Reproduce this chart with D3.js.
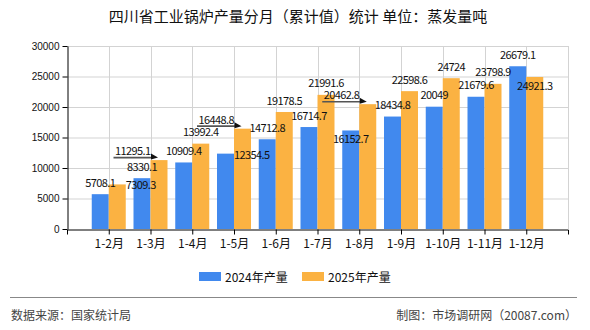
<!DOCTYPE html>
<html>
<head>
<meta charset="utf-8">
<script src="https://cdn.jsdelivr.net/npm/d3@7"></script>
<style>
  body { margin: 0; background: #fff; }
  text { font-family: "Noto Sans CJK SC", "Liberation Sans", sans-serif; }
</style>
</head>
<body>
<script>
// data
var categories = ["1-2月", "1-3月", "1-4月", "1-5月", "1-6月", "1-7月", "1-8月", "1-9月", "1-10月", "1-11月", "1-12月"];
var values2024 = [5708.1, 8330.1, 10909.4, 12354.5, 14712.8, 16714.7, 16152.7, 18434.8, 20049, 21679.6, 26679.1];
var values2025 = [7309.3, 11295.1, 13992.4, 16448.8, 19178.5, 21991.6, 20462.8, 22598.6, 24724, 23798.9, 24921.3];
var seriesNames = ["2024年产量", "2025年产量"];
var yTicks = [0, 5000, 10000, 15000, 20000, 25000, 30000];

// where each value label sits (the original moved a few to avoid overlap)
var labelPlace2024 = ["top", "top", "top", "right", "top", "top", "inside", "top", "top", "top", "top"];
var labelPlace2025 = ["right", "left", "top", "left", "top", "top", "left", "top", "top", "top", "inside"];

var w = 590, h = 330;
var pLeft = 67, pRight = 568, pTop = 46, pBottom = 229;
var colors = ["#4189ee", "#fbb242"];
var barW = 17;

var svg = d3.select("body").append("svg")
    .attr("width", w)
    .attr("height", h);

// title
svg.append("text")
    .attr("x", 298).attr("y", 22)
    .attr("text-anchor", "middle")
    .style("font-size", "15px")
    .style("fill", "#111")
    .text("四川省工业锅炉产量分月（累计值）统计 单位：蒸发量吨");

var x = d3.scalePoint().domain(categories).range([pLeft, pRight]).padding(1);
var y = d3.scaleLinear().domain([0, 30000]).range([pBottom, pTop]);

// grid
svg.append("g").selectAll("line")
    .data(yTicks.filter(function(d){ return d > 0; }))
    .join("line")
    .attr("x1", pLeft).attr("x2", pRight)
    .attr("y1", function(d){ return y(d) + 0.5; })
    .attr("y2", function(d){ return y(d) + 0.5; })
    .attr("stroke", "#d3d3d3");

svg.append("g").selectAll("line")
    .data(categories.map(function(c){ return x(c); }).concat([pRight]))
    .join("line")
    .attr("x1", function(d){ return Math.round(d) + 0.5; })
    .attr("x2", function(d){ return Math.round(d) + 0.5; })
    .attr("y1", pTop).attr("y2", pBottom)
    .attr("stroke", "#d3d3d3");

// bars
var series = [values2024, values2025];
series.forEach(function(vals, s){
    svg.append("g").selectAll("rect")
        .data(vals)
        .join("rect")
        .attr("x", function(d, i){ return x(categories[i]) - barW + s * barW; })
        .attr("y", function(d){ return y(d); })
        .attr("width", barW)
        .attr("height", function(d){ return pBottom - y(d); })
        .attr("fill", colors[s]);
});

// axes
var yAxis = svg.append("g")
    .attr("transform", "translate(" + (pLeft + 0.5) + ",0)")
    .call(d3.axisLeft(y).tickValues(yTicks).tickSize(5).tickSizeOuter(0).tickPadding(3).tickFormat(d3.format("")));
yAxis.selectAll("text").style("font-family", "Liberation Sans").style("font-size", "10px").style("fill", "#111");

var xAxis = svg.append("g")
    .attr("transform", "translate(0," + (pBottom + 0.5) + ")")
    .call(d3.axisBottom(x).tickSize(5).tickSizeOuter(5).tickPadding(5));
xAxis.selectAll("text").style("font-size", "12px").style("fill", "#111");

// value labels
var labels = svg.append("g")
    .style("font-family", "Liberation Mono, monospace")
    .style("font-size", "11px")
    .style("letter-spacing", "-0.6px")
    .style("fill", "#111");

var places = [labelPlace2024, labelPlace2025];
series.forEach(function(vals, s){
    vals.forEach(function(v, i){
        var bx = x(categories[i]) - barW + s * barW;
        var cx = bx + barW / 2;
        var ty = y(v);
        var place = places[s][i];
        var t = labels.append("text")
            .attr("dominant-baseline", "central")
            .text(d3.format("")(v));
        if (place === "top") {
            t.attr("x", cx).attr("y", ty - 12.5).attr("text-anchor", "middle");
        } else if (place === "inside") {
            t.attr("x", cx).attr("y", ty + 8).attr("text-anchor", "middle");
        } else if (place === "right") {
            t.attr("x", bx + barW).attr("y", ty).attr("text-anchor", "start");
        } else {
            t.attr("x", bx).attr("y", ty - 10).attr("text-anchor", "end");
            var tw = t.node().getComputedTextLength();
            var x0 = bx - tw - 1.5, x1 = cx - 1, ly = ty - 2.5;
            labels.append("line")
                .attr("x1", x0).attr("x2", x1 - 5)
                .attr("y1", ly).attr("y2", ly)
                .attr("stroke", "#555").attr("stroke-width", 1.6);
            labels.append("path")
                .attr("d", "M" + (x1 - 7) + "," + (ly - 4) + "L" + x1 + "," + ly + "L" + (x1 - 7) + "," + (ly + 2) + "Z")
                .attr("fill", "#111");
        }
    });
});

// legend
var legend = svg.append("g").attr("transform", "translate(199,272)");
seriesNames.forEach(function(name, s){
    var g = legend.append("g").attr("transform", "translate(" + (s * 103) + ",0)");
    g.append("rect").attr("width", 22).attr("height", 9).attr("fill", colors[s]);
    g.append("text")
        .attr("x", 26).attr("y", 4.5)
        .attr("dominant-baseline", "central")
        .style("font-size", "12px")
        .style("fill", "#111")
        .text(name);
});

// footer
svg.append("line")
    .attr("x1", 10).attr("x2", 577)
    .attr("y1", 297.5).attr("y2", 297.5)
    .attr("stroke", "#888").attr("stroke-width", 1);

svg.append("text")
    .attr("x", 11).attr("y", 320)
    .style("font-size", "12px").style("fill", "#444")
    .text("数据来源：国家统计局");

svg.append("text")
    .attr("x", 577).attr("y", 320)
    .attr("text-anchor", "end")
    .style("font-size", "12px").style("fill", "#444")
    .text("制图：市场调研网（20087.com）");
</script>
</body>
</html>
